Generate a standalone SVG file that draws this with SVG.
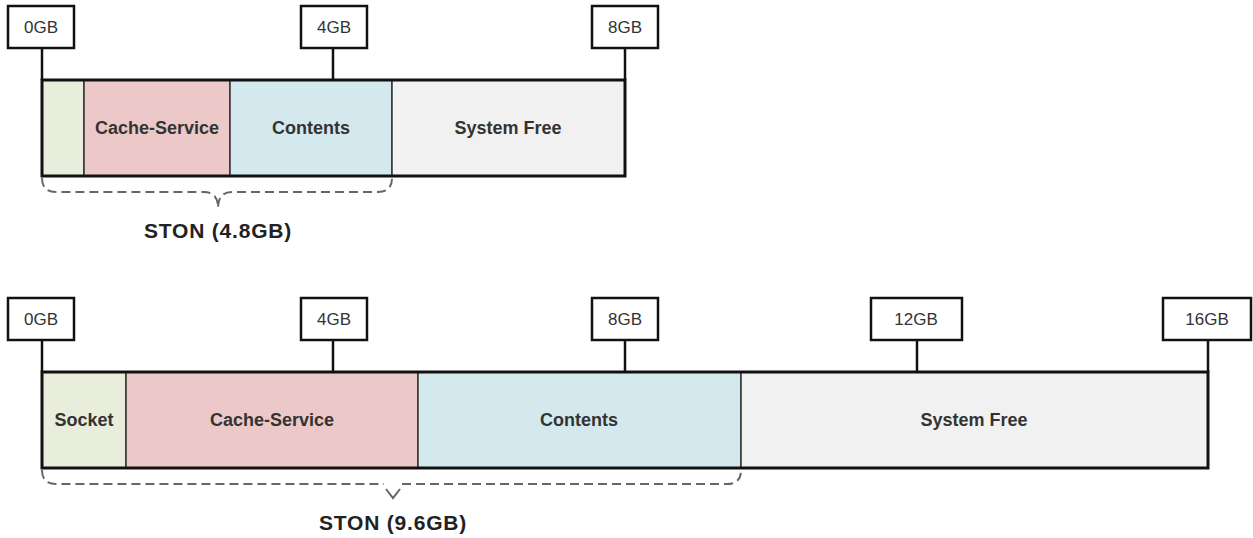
<svg xmlns="http://www.w3.org/2000/svg" width="1253" height="538" viewBox="0 0 1253 538">
<style>
.lbl{fill:#fff;stroke:#111;stroke-width:2.5}
.lt{font-family:"Liberation Sans",Arial,sans-serif;font-size:17px;fill:#333;text-anchor:middle}
.tick{stroke:#111;stroke-width:2.5}
.seg{stroke:#333;stroke-width:1.5}
.st{font-family:"Liberation Sans",Arial,sans-serif;font-size:18px;font-weight:bold;fill:#333;text-anchor:middle}
.frame{fill:none;stroke:#111;stroke-width:3}
.brace{fill:none;stroke:#666;stroke-width:2;stroke-dasharray:9 5}
.ston{font-family:"Liberation Sans",Arial,sans-serif;font-size:21px;font-weight:bold;fill:#222;text-anchor:middle;letter-spacing:0.8px}
.socket{fill:#e9eddc}.cache{fill:#ecc9c8}.contents{fill:#d3e9ee}.free{fill:#f1f1f1}
</style>
<rect width="1253" height="538" fill="#fff"/>
<!-- Top (8GB) -->
<g id="top-bar">
<rect class="socket seg" x="42" y="80" width="42" height="96"/>
<rect class="cache seg" x="84" y="80" width="146" height="96"/>
<rect class="contents seg" x="230" y="80" width="162" height="96"/>
<rect class="free seg" x="392" y="80" width="233" height="96"/>
<rect class="frame" x="42" y="80" width="583" height="96"/>
<text class="st" x="157" y="134">Cache-Service</text>
<text class="st" x="311" y="134">Contents</text>
<text class="st" x="508" y="134">System Free</text>
</g>
<g id="top-ticks">
<line class="tick" x1="42" y1="48" x2="42" y2="80"/>
<line class="tick" x1="333" y1="48" x2="333" y2="80"/>
<line class="tick" x1="625" y1="48" x2="625" y2="80"/>
</g>
<g id="top-0GB"><rect class="lbl" x="8" y="6" width="66" height="42"/><text class="lt" x="41" y="33">0GB</text></g>
<g id="top-4GB"><rect class="lbl" x="301" y="6" width="66" height="42"/><text class="lt" x="334" y="33">4GB</text></g>
<g id="top-8GB"><rect class="lbl" x="592" y="6" width="66" height="42"/><text class="lt" x="625" y="33">8GB</text></g>
<g id="top-brace">
<path class="brace" d="M42 178 Q42 192 56 192 L204 192 Q218 192 218 208 Q218 192 232 192 L378 192 Q392 192 392 178"/>
<text class="ston" x="218" y="238">STON (4.8GB)</text>
</g>
<!-- Bottom (16GB) -->
<g id="bottom-bar">
<rect class="socket seg" x="42" y="372" width="84" height="96"/>
<rect class="cache seg" x="126" y="372" width="292" height="96"/>
<rect class="contents seg" x="418" y="372" width="323" height="96"/>
<rect class="free seg" x="741" y="372" width="467" height="96"/>
<rect class="frame" x="42" y="372" width="1166" height="96"/>
<text class="st" x="84" y="426">Socket</text>
<text class="st" x="272" y="426">Cache-Service</text>
<text class="st" x="579" y="426">Contents</text>
<text class="st" x="974" y="426">System Free</text>
</g>
<g id="bottom-ticks">
<line class="tick" x1="42" y1="340" x2="42" y2="372"/>
<line class="tick" x1="333" y1="340" x2="333" y2="372"/>
<line class="tick" x1="625" y1="340" x2="625" y2="372"/>
<line class="tick" x1="917" y1="340" x2="917" y2="372"/>
<line class="tick" x1="1208" y1="340" x2="1208" y2="372"/>
</g>
<g id="bot-0GB"><rect class="lbl" x="8" y="298" width="66" height="42"/><text class="lt" x="41" y="325">0GB</text></g>
<g id="bot-4GB"><rect class="lbl" x="301" y="298" width="66" height="42"/><text class="lt" x="334" y="325">4GB</text></g>
<g id="bot-8GB"><rect class="lbl" x="592" y="298" width="66" height="42"/><text class="lt" x="625" y="325">8GB</text></g>
<g id="bot-12GB"><rect class="lbl" x="871" y="298" width="91" height="42"/><text class="lt" x="916" y="325">12GB</text></g>
<g id="bot-16GB"><rect class="lbl" x="1163" y="298" width="88" height="42"/><text class="lt" x="1207" y="325">16GB</text></g>
<g id="bottom-brace">
<path class="brace" d="M42 470 Q42 484 56 484 L384 484"/>
<path class="brace" d="M402 484 L727 484 Q741 484 741 470"/>
<path fill="none" stroke="#666" stroke-width="2" d="M386 489 L393 498 L400 489"/>
<text class="ston" x="393" y="530">STON (9.6GB)</text>
</g>
</svg>
